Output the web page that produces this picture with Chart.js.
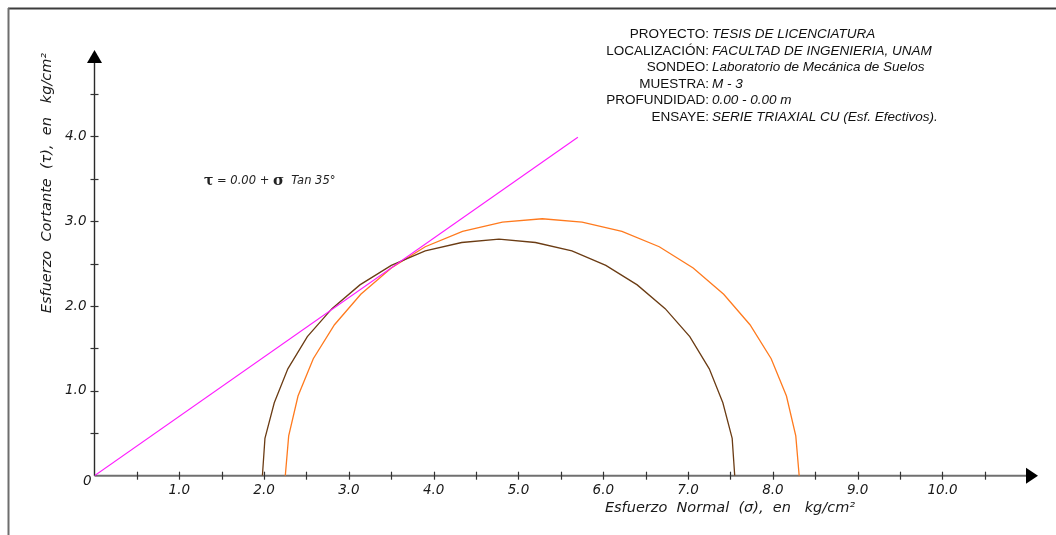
<!DOCTYPE html>
<html lang="es">
  <head>
    <meta charset="UTF-8" />
    <title>Círculos de Mohr</title>
    <style>
      html, body { margin: 0; padding: 0; background: #fff; }
      #wrap { position: relative; width: 1056px; height: 535px; }
    </style>
  </head>
  <body>
    <div id="wrap"><canvas id="mohr" width="1056" height="535"></canvas></div>

    <script src="https://cdn.jsdelivr.net/npm/chart.js@4/dist/chart.umd.min.js"></script>
    <script>
      // circulo 1 (cafe)
      const sigmaBrown = [1.98, 2.01, 2.12, 2.28, 2.51, 2.80, 3.13, 3.50, 3.90, 4.33, 4.77, 5.20, 5.63, 6.03, 6.40, 6.73, 7.02, 7.25, 7.41, 7.52, 7.55];
      const tauBrown = [0, 0.44, 0.86, 1.26, 1.64, 1.97, 2.25, 2.48, 2.65, 2.75, 2.79, 2.75, 2.65, 2.48, 2.25, 1.97, 1.64, 1.26, 0.86, 0.44, 0];
      // circulo 2 (naranja)
      const sigmaOrange = [2.25, 2.29, 2.40, 2.58, 2.83, 3.14, 3.50, 3.90, 4.34, 4.81, 5.28, 5.75, 6.22, 6.66, 7.06, 7.42, 7.73, 7.98, 8.16, 8.27, 8.31];
      const tauOrange = [0, 0.47, 0.94, 1.38, 1.78, 2.14, 2.45, 2.70, 2.88, 2.99, 3.03, 2.99, 2.88, 2.70, 2.45, 2.14, 1.78, 1.38, 0.94, 0.47, 0];
      // envolvente de falla
      const cohesion = 0.00;
      const frictionAngle = 35;
      const sigmaEnvelope = [0, 5.70];

      const sigmaTicks = [0.5, 1.0, 1.5, 2.0, 2.5, 3.0, 3.5, 4.0, 4.5, 5.0, 5.5, 6.0, 6.5, 7.0, 7.5, 8.0, 8.5, 9.0, 9.5, 10.0, 10.5];
      const sigmaTickLabels = ['1.0', '2.0', '3.0', '4.0', '5.0', '6.0', '7.0', '8.0', '9.0', '10.0'];
      const tauTicks = [0.5, 1.0, 1.5, 2.0, 2.5, 3.0, 3.5, 4.0, 4.5];
      const tauTickLabels = ['1.0', '2.0', '3.0', '4.0'];

      const headerLabels = ['PROYECTO:', 'LOCALIZACIÓN:', 'SONDEO:', 'MUESTRA:', 'PROFUNDIDAD:', 'ENSAYE:'];
      const headerValues = ['TESIS DE LICENCIATURA', 'FACULTAD DE INGENIERIA, UNAM', 'Laboratorio de Mecánica de Suelos', 'M - 3', '0.00 - 0.00 m', 'SERIE TRIAXIAL CU (Esf. Efectivos).'];

      const xTitle = 'Esfuerzo  Normal  (σ),  en   kg/cm²';
      const yTitle = 'Esfuerzo  Cortante  (τ),  en   kg/cm²';

      const tanPhi = Math.tan(frictionAngle * Math.PI / 180);
      const toPoints = (xs, ys) => xs.map((x, i) => ({ x: x, y: ys[i] }));
      const envelope = sigmaEnvelope.map(s => ({ x: s, y: cohesion + s * tanPhi }));

      const tickFont = 'italic 13.5px "DejaVu Sans"';

      const axesPlugin = {
        id: 'axes',
        beforeDatasetsDraw(chart) {
          const ctx = chart.ctx;
          const xs = chart.scales.x, ys = chart.scales.y;
          const x0 = xs.getPixelForValue(0), y0 = ys.getPixelForValue(0);
          const area = chart.chartArea;
          ctx.save();

          // marco
          ctx.lineWidth = 2;
          ctx.strokeStyle = '#3c3c3c';
          ctx.beginPath(); ctx.moveTo(8, 8.5); ctx.lineTo(1056, 8.5); ctx.stroke();
          ctx.strokeStyle = '#6e6e6e';
          ctx.beginPath(); ctx.moveTo(8.5, 8); ctx.lineTo(8.5, 535); ctx.stroke();

          // eje x
          ctx.strokeStyle = '#707070';
          ctx.lineWidth = 2;
          ctx.beginPath(); ctx.moveTo(x0, y0); ctx.lineTo(area.right - 6, y0); ctx.stroke();
          // eje y
          ctx.strokeStyle = '#2a2a2a';
          ctx.lineWidth = 1.4;
          ctx.beginPath(); ctx.moveTo(x0, y0); ctx.lineTo(x0, area.top + 8); ctx.stroke();

          // marcas
          ctx.strokeStyle = '#333';
          ctx.lineWidth = 1.2;
          sigmaTicks.forEach(v => {
            const px = Math.round(xs.getPixelForValue(v)) + 0.5;
            ctx.beginPath(); ctx.moveTo(px, y0 - 4); ctx.lineTo(px, y0 + 4); ctx.stroke();
          });
          tauTicks.forEach(v => {
            const py = Math.round(ys.getPixelForValue(v)) + 0.5;
            ctx.beginPath(); ctx.moveTo(x0 - 4, py); ctx.lineTo(x0 + 4, py); ctx.stroke();
          });

          // flechas
          ctx.fillStyle = '#000';
          ctx.beginPath();
          ctx.moveTo(area.right - 2, y0);
          ctx.lineTo(area.right - 14, y0 - 8);
          ctx.lineTo(area.right - 14, y0 + 8);
          ctx.closePath(); ctx.fill();
          ctx.beginPath();
          ctx.moveTo(x0, area.top);
          ctx.lineTo(x0 - 7.5, area.top + 13);
          ctx.lineTo(x0 + 7.5, area.top + 13);
          ctx.closePath(); ctx.fill();

          // etiquetas
          ctx.fillStyle = '#1a1a1a';
          ctx.font = tickFont;
          ctx.textAlign = 'center';
          ctx.textBaseline = 'middle';
          sigmaTickLabels.forEach(t => {
            ctx.fillText(t, xs.getPixelForValue(parseFloat(t)), y0 + 15);
          });
          ctx.textAlign = 'right';
          tauTickLabels.forEach(t => {
            ctx.fillText(t, x0 - 8, ys.getPixelForValue(parseFloat(t)));
          });
          ctx.fillText('0', x0 - 3, y0 + 6);
          ctx.restore();
        },
        afterDatasetsDraw(chart) {
          const ctx = chart.ctx;
          ctx.save();
          ctx.fillStyle = '#1a1a1a';
          ctx.textBaseline = 'middle';

          // titulos de ejes
          ctx.font = 'italic 14.5px "DejaVu Sans"';
          ctx.textAlign = 'center';
          ctx.fillText(xTitle, 730, 508);
          ctx.save();
          ctx.translate(47, 183);
          ctx.rotate(-Math.PI / 2);
          ctx.fillText(yTitle, 0, 0);
          ctx.restore();

          // datos del ensaye
          ctx.fillStyle = '#111';
          headerLabels.forEach((lab, i) => {
            const y = 34.5 + i * 16.5;
            ctx.font = '13.5px "Liberation Sans"';
            ctx.textAlign = 'right';
            ctx.fillText(lab, 709, y);
            ctx.font = 'italic 13.5px "Liberation Sans"';
            ctx.textAlign = 'left';
            ctx.fillText(headerValues[i], 712, y);
          });

          // ecuacion de la envolvente
          const parts = [
            { t: 'τ', f: 'bold 14px "DejaVu Serif"' },
            { t: ' = ' + cohesion.toFixed(2) + ' + ', f: 'italic 11.5px "DejaVu Sans"' },
            { t: 'σ', f: 'bold 15px "DejaVu Serif"' },
            { t: '  Tan ' + frictionAngle + '°', f: 'italic 11.5px "DejaVu Sans"' }
          ];
          let x = 204;
          ctx.textAlign = 'left';
          ctx.fillStyle = '#222';
          parts.forEach(p => {
            ctx.font = p.f;
            ctx.fillText(p.t, x, 181);
            x += ctx.measureText(p.t).width;
          });
          ctx.restore();
        }
      };

      new Chart(document.getElementById('mohr'), {
        type: 'scatter',
        data: {
          datasets: [
            { label: 'Envolvente', data: envelope, showLine: true, borderColor: '#ff1aff', borderWidth: 1.1, pointRadius: 0 },
            { label: 'Círculo 1', data: toPoints(sigmaBrown, tauBrown), showLine: true, borderColor: '#6b3c14', borderWidth: 1.3, pointRadius: 0 },
            { label: 'Círculo 2', data: toPoints(sigmaOrange, tauOrange), showLine: true, borderColor: '#ff7a1e', borderWidth: 1.3, pointRadius: 0 }
          ]
        },
        options: {
          responsive: false,
          animation: false,
          events: [],
          layout: { padding: { left: 94.5, right: 16, top: 50, bottom: 59.3 } },
          plugins: { legend: { display: false }, tooltip: { enabled: false } },
          scales: {
            x: { type: 'linear', min: 0, max: 11.15, display: false },
            y: { type: 'linear', min: 0, max: 5.02, display: false }
          }
        },
        plugins: [axesPlugin]
      });
    </script>
  </body>
</html>
